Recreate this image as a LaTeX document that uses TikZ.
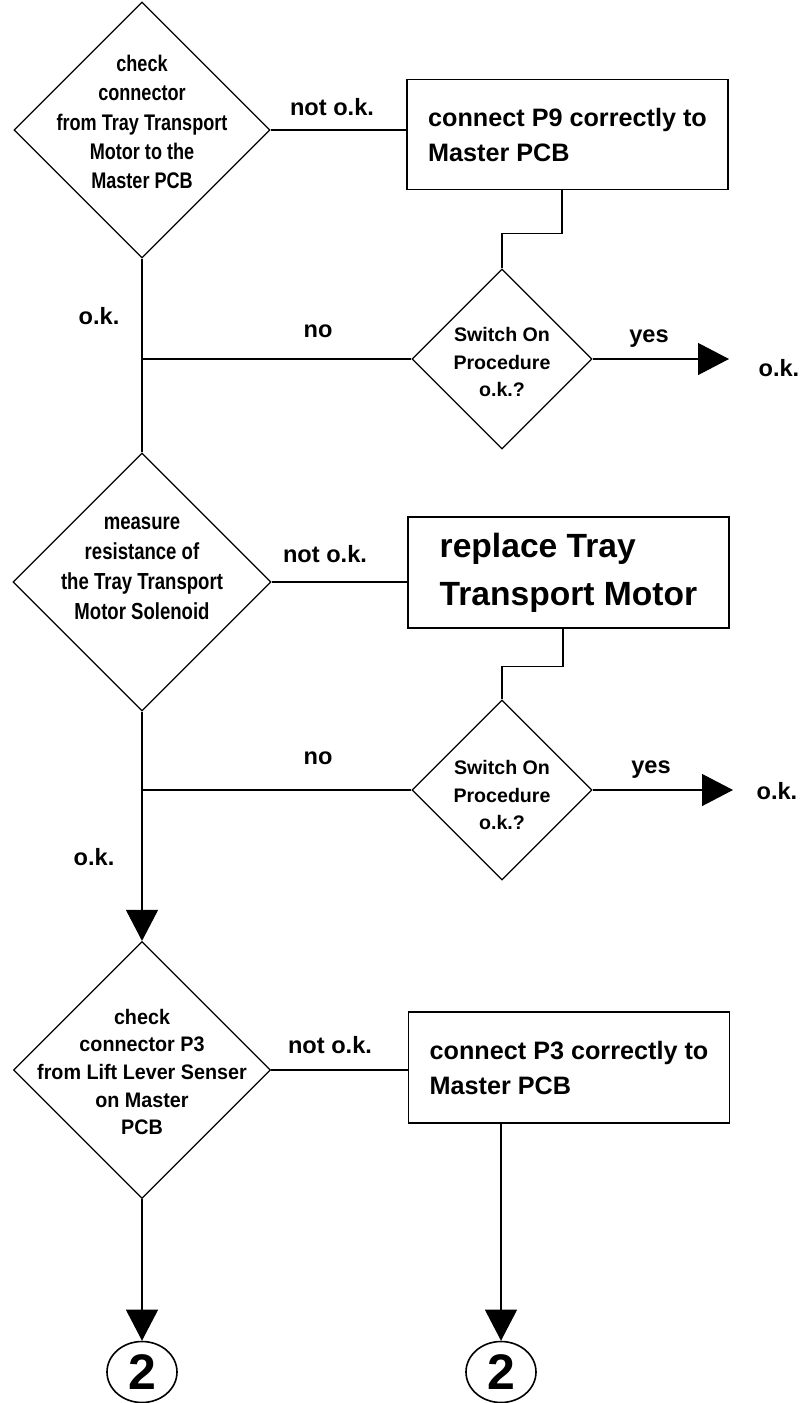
\documentclass[tikz,border=0pt]{standalone}
\usepackage{fontspec}
\setmainfont{Liberation Sans}
\newfontfamily\narrowsf[FakeStretch=0.8]{Liberation Sans}
\newfontfamily\semisf[FakeStretch=0.94]{Liberation Sans}
\usetikzlibrary{arrows.meta,positioning,shapes.geometric,calc}
\newcommand{\fsz}[2]{\fontsize{#1}{#2}\selectfont}

\begin{document}
\begin{tikzpicture}[
  x=0.5pt, y=-0.5pt,
  line width=0.6pt,
  decision/.style={draw, diamond, aspect=1, inner sep=0pt},
  dtext/.style={align=center, inner sep=0pt, font=\narrowsf\bfseries\fsz{11.3}{14.7}},
  stext/.style={align=center, inner sep=0pt, font=\bfseries\fsz{9.8}{13.8}},
  action/.style={draw, rectangle, minimum width=160.5pt, minimum height=55pt, align=left, font=\bfseries\fsz{12.6}{17.5}},
  lbl/.style={font=\bfseries\fsz{11.8}{14}, inner sep=0pt, anchor=base},
  conn/.style={draw, ellipse, minimum width=35pt, minimum height=30.5pt, inner sep=0pt, line width=0.8pt, font=\bfseries\fsz{25}{25}},
  >={Triangle[length=15.5pt, width=16pt]},
  flow/.style={->},
]
\useasboundingbox (0,0) rectangle (812,1403);

% first check: connector P9
\node[decision, minimum width=128pt, minimum height=128pt] (chk1) at (142,130) {};
\node[dtext] (chk1txt) at ([yshift=4pt]chk1.center) {check\\connector\\from Tray Transport\\Motor to the\\Master PCB};
\node[action] (box1) at (567.5,134.5) {connect P9 correctly to\\Master PCB};
\node[decision, minimum width=90pt, minimum height=90pt] (sw1) at (502,359) {};
\node[stext] (sw1txt) at ([yshift=-1.5pt]sw1.center) {Switch On\\Procedure\\o.k.?};
\coordinate (tip1) at (729,359);

% second check: solenoid resistance
\node[decision, minimum width=129pt, minimum height=129pt] (chk2) at (142,582) {};
\node[dtext, font=\narrowsf\bfseries\fsz{11.6}{15}] (chk2txt) at ([yshift=7pt]chk2.center) {measure\\resistance of\\the Tray Transport\\Motor Solenoid};
\node[action, minimum height=55.5pt, font=\bfseries\fsz{16.8}{24}] (box2) at (568.5,572.5) {replace Tray\\Transport Motor};
\node[decision, minimum width=90pt, minimum height=90pt] (sw2) at (502,790) {};
\node[stext] (sw2txt) at ([yshift=-2.5pt]sw2.center) {Switch On\\Procedure\\o.k.?};
\coordinate (tip2) at (733,790);

% third check: connector P3
\node[decision, minimum width=128.5pt, minimum height=128.5pt] (chk3) at (142,1070) {};
\node[stext, font=\semisf\bfseries\fsz{10.5}{13.8}] (chk3txt) at ([yshift=-1pt]chk3.center) {check\\connector P3\\from Lift Lever Senser\\on Master\\PCB};
\node[action, minimum height=55.5pt] (box3) at (569,1067.5) {connect P3 correctly to\\Master PCB};
\node[conn] (circ1) at (142,1372) {2};
\node[conn] (circ2) at (501,1372) {2};

% labels
\node[lbl] (nok1) at (332,115) {not o.k.};
\node[lbl] (oka) at (99,324) {o.k.};
\node[lbl] (no1) at (318,337) {no};
\node[lbl] (yes1) at (649,342) {yes};
\node[lbl, anchor=base west] (okr1) at (758,376) {o.k.};
\node[lbl] (nok2) at (325,562) {not o.k.};
\node[lbl] (no2) at (318,764) {no};
\node[lbl] (yes2) at (651,773) {yes};
\node[lbl, anchor=base west] (okr2) at (756,799) {o.k.};
\node[lbl] (okb) at (94,865) {o.k.};
\node[lbl] (nok3) at (330,1053) {not o.k.};

% connectors
\draw (chk1.east) -- (chk1.east -| box1.west);
\draw ([xshift=-2.75pt]box1.south) -- ++(0,43) -| (sw1.north);
\draw (sw1.west) -- (sw1.west -| chk1.south);
\draw[flow] (sw1.east) -- (tip1);
\draw (chk1.south) -- (chk2.north);
\draw (chk2.east) -- (chk2.east -| box2.west);
\draw ([xshift=-2.75pt]box2.south) -- ++(0,38) -| (sw2.north);
\draw (sw2.west) -- (sw2.west -| chk2.south);
\draw[flow] (sw2.east) -- (tip2);
\draw[flow] (chk2.south) -- (chk3.north);
\draw (chk3.east) -- (chk3.east -| box3.west);
\draw[flow] (chk3.south) -- (circ1.north);
\draw[flow] (circ2.north |- box3.south) -- (circ2.north);
\end{tikzpicture}
\end{document}
